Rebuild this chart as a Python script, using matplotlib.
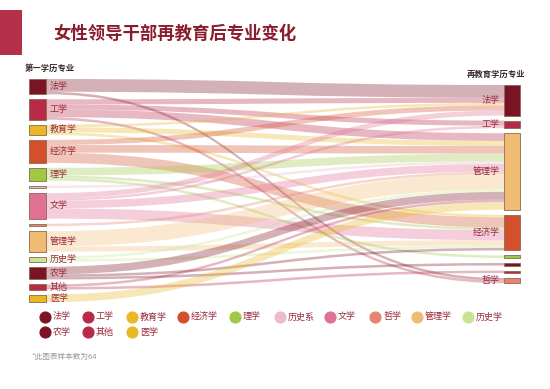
import matplotlib
matplotlib.use("Agg")
import matplotlib.pyplot as plt
from matplotlib.path import Path
from matplotlib.patches import PathPatch, Rectangle

plt.rcParams['font.family'] = ['Noto Sans CJK SC', 'DejaVu Sans']

# first-degree majors (left) and re-education majors (right)
left_nodes = ["法学", "工学", "教育学", "经济学", "理学", "历史系", "文学", "哲学",
              "管理学", "历史学", "农学", "其他", "医学"]
left_labelled = ["法学", "工学", "教育学", "经济学", "理学", "文学",
                 "管理学", "历史学", "农学", "其他", "医学"]
right_nodes = ["法学", "工学", "管理学", "经济学", "理学", "农学", "其他", "哲学"]
right_labelled = ["法学", "工学", "管理学", "经济学", "哲学"]

# flows: (source, target, count)
flows = [
    ("法学", "法学", 5), ("法学", "哲学", 1),
    ("工学", "法学", 2), ("工学", "工学", 2), ("工学", "管理学", 3), ("工学", "哲学", 1),
    ("教育学", "法学", 1), ("教育学", "管理学", 2), ("教育学", "经济学", 1),
    ("经济学", "法学", 2), ("经济学", "管理学", 3), ("经济学", "经济学", 4),
    ("理学", "管理学", 3), ("理学", "经济学", 1), ("理学", "理学", 1),
    ("历史系", "管理学", 1),
    ("文学", "法学", 2), ("文学", "工学", 1), ("文学", "管理学", 3), ("文学", "经济学", 4),
    ("哲学", "管理学", 1),
    ("管理学", "管理学", 6), ("管理学", "经济学", 2),
    ("历史学", "管理学", 1), ("历史学", "经济学", 1),
    ("农学", "管理学", 3), ("农学", "经济学", 1), ("农学", "农学", 1),
    ("其他", "管理学", 1), ("其他", "其他", 1),
    ("医学", "管理学", 3),
]

legend_names = ["法学", "工学", "教育学", "经济学", "理学", "历史系", "文学", "哲学",
                "管理学", "历史学", "农学", "其他", "医学"]
colors = {
    "法学": "#7a1424", "工学": "#b82a48", "教育学": "#e9b824", "经济学": "#d4502c",
    "理学": "#9fc844", "历史系": "#ecbccc", "文学": "#e07094", "哲学": "#e8836f",
    "管理学": "#f0bb72", "历史学": "#c9e394", "农学": "#7a1424", "其他": "#b82a48",
    "医学": "#e9b824",
}

TEXT = "#9a2a3c"
unit, gap = 2.55, 5.0
lx0, lx1 = 29, 46
rx0, rx1 = 504, 520
ltop, rtop = 79, 85

fig = plt.figure(figsize=(5.5, 3.89), dpi=100)
ax = fig.add_axes([0, 0, 1, 1])
ax.set_xlim(0, 550)
ax.set_ylim(389, 0)
ax.axis("off")


def layout(nodes, side, top):
    pos = {}
    y = top
    for n in nodes:
        if side == 0:
            v = sum(c for s, t, c in flows if s == n)
        else:
            v = sum(c for s, t, c in flows if t == n)
        pos[n] = [y, y + v * unit]
        y += v * unit + gap
    return pos


lpos = layout(left_nodes, 0, ltop)
rpos = layout(right_nodes, 1, rtop)

# offsets within nodes
lcur = {n: lpos[n][0] for n in left_nodes}
rcur = {n: rpos[n][0] for n in right_nodes}
src_sorted = sorted(flows, key=lambda f: (left_nodes.index(f[0]), right_nodes.index(f[1])))
s_off = {}
for f in src_sorted:
    s_off[f] = lcur[f[0]]
    lcur[f[0]] += f[2] * unit
tgt_sorted = sorted(flows, key=lambda f: (right_nodes.index(f[1]), left_nodes.index(f[0])))
t_off = {}
for f in tgt_sorted:
    t_off[f] = rcur[f[1]]
    rcur[f[1]] += f[2] * unit

xm = (lx1 + rx0) / 2
for f in flows:
    h = f[2] * unit
    sy, ty = s_off[f], t_off[f]
    verts = [(lx1, sy), (xm, sy), (xm, ty), (rx0, ty),
             (rx0, ty + h), (xm, ty + h), (xm, sy + h), (lx1, sy + h), (lx1, sy)]
    codes = [Path.MOVETO, Path.CURVE4, Path.CURVE4, Path.CURVE4,
             Path.LINETO, Path.CURVE4, Path.CURVE4, Path.CURVE4, Path.CLOSEPOLY]
    ax.add_patch(PathPatch(Path(verts, codes), facecolor=colors[f[0]],
                           edgecolor="none", alpha=0.33, zorder=1))

for n in left_nodes:
    y0, y1 = lpos[n]
    ax.add_patch(Rectangle((lx0, y0), lx1 - lx0, y1 - y0, facecolor=colors[n],
                           edgecolor="#8a6a50", linewidth=0.6, zorder=3))
    if n in left_labelled:
        ax.text(lx1 + 4, (y0 + y1) / 2, n, fontsize=6.5, color=TEXT,
                va="center", ha="left", zorder=4)

for n in right_nodes:
    y0, y1 = rpos[n]
    ax.add_patch(Rectangle((rx0, y0), rx1 - rx0, y1 - y0, facecolor=colors[n],
                           edgecolor="#8a6a50", linewidth=0.6, zorder=3))
    if n in right_labelled:
        ax.text(rx0 - 4, (y0 + y1) / 2, n, fontsize=6.5, color=TEXT,
                va="center", ha="right", zorder=4)

# title block
ax.add_patch(Rectangle((0, 10), 22, 45, facecolor="#b2304a", edgecolor="none"))
ax.text(53, 34, "女性领导干部再教育后专业变化", fontsize=12.5, color="#8a1c2c",
        fontweight="bold", va="center", ha="left")
ax.text(25, 68, "第一学历专业", fontsize=6, color="#3a2a2a", fontweight="bold",
        va="center", ha="left")
ax.text(525, 74, "再教育学历专业", fontsize=6, color="#3a2a2a", fontweight="bold",
        va="center", ha="right")

# legend
leg_x = [45, 88, 132, 183, 235, 280, 330, 375, 417, 468]
for i, n in enumerate(legend_names):
    x = leg_x[i % 10]
    y = 317 + 15 * (i // 10)
    ax.scatter([x], [y], s=60, color=colors[n], zorder=3)
    ax.text(x + 8, y, n, fontsize=6.5, color=TEXT, va="center", ha="left")

ax.text(32, 357, "*此图表样本数为64", fontsize=5.5, color="#999999",
        va="center", ha="left")

fig.savefig("out.png", dpi=100)
